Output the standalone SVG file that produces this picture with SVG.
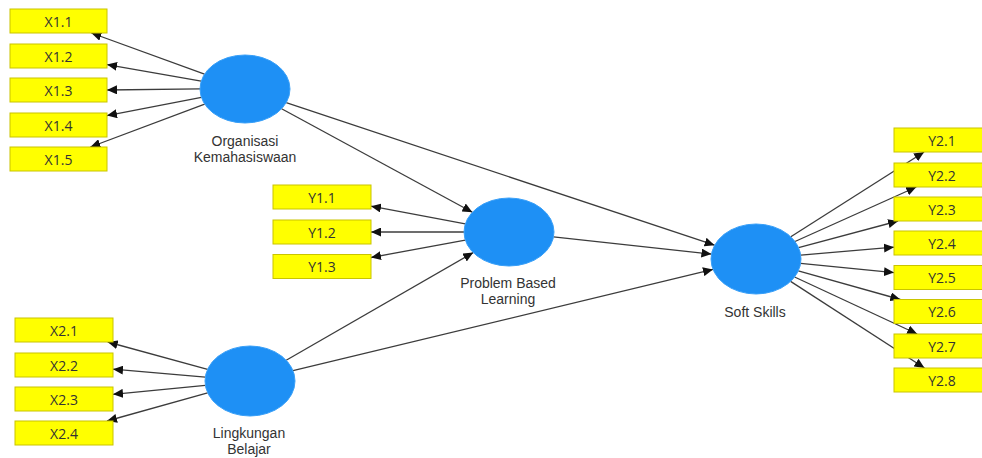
<svg xmlns="http://www.w3.org/2000/svg" width="982" height="458" viewBox="0 0 982 458">
<style>
.box{fill:#ffff00;stroke:#c9c400;stroke-width:1}
.bt{font-family:"Open Sans","Noto Sans",sans-serif;font-size:14px;fill:#333;text-anchor:middle;dominant-baseline:central}
.lv{fill:#1e90f5;stroke:#3aa0f8;stroke-width:1}
.lt{font-family:"Liberation Sans",Arial,sans-serif;font-size:14px;fill:#333;text-anchor:middle}
.c{stroke:#3c3c3c;stroke-width:1.3;fill:none;marker-end:url(#ah)}
</style>
<defs>
<marker id="ah" markerUnits="userSpaceOnUse" markerWidth="10" markerHeight="9" refX="10" refY="4.5" orient="auto">
<path d="M0,0 L10,4.5 L0,9 z" fill="#111"/>
</marker>
</defs>
<rect width="982" height="458" fill="#ffffff"/>
<g id="connectors">
<line class="c" x1="204.5" y1="74.2" x2="91.4" y2="33"/>
<line class="c" x1="201.2" y1="81.2" x2="107" y2="64.6"/>
<line class="c" x1="200" y1="88.8" x2="107" y2="90"/>
<line class="c" x1="201.4" y1="97.4" x2="107" y2="115.6"/>
<line class="c" x1="204.7" y1="104.1" x2="90.4" y2="147"/>
<line class="c" x1="465.3" y1="223.8" x2="371" y2="206.2"/>
<line class="c" x1="464" y1="232" x2="371" y2="232"/>
<line class="c" x1="465.3" y1="240.1" x2="371" y2="257.5"/>
<line class="c" x1="207.6" y1="369.4" x2="107.7" y2="342"/>
<line class="c" x1="205.3" y1="377.2" x2="113" y2="369.2"/>
<line class="c" x1="205.3" y1="385.3" x2="113" y2="394.3"/>
<line class="c" x1="207.6" y1="392.8" x2="107" y2="421"/>
<line class="c" x1="790.8" y1="236.8" x2="924.1" y2="152"/>
<line class="c" x1="795" y1="241.5" x2="916.3" y2="187"/>
<line class="c" x1="798.6" y1="247.6" x2="898.1" y2="221"/>
<line class="c" x1="800.7" y1="255.2" x2="894" y2="247.2"/>
<line class="c" x1="800.6" y1="263.4" x2="894" y2="272.6"/>
<line class="c" x1="798.3" y1="270.9" x2="900.3" y2="299.5"/>
<line class="c" x1="794.6" y1="277" x2="917.2" y2="334"/>
<line class="c" x1="790.6" y1="281.4" x2="924.5" y2="368"/>
<line class="c" x1="281.6" y1="108.8" x2="472.4" y2="212.2"/>
<line class="c" x1="286.2" y1="102.7" x2="714.6" y2="245.2"/>
<line class="c" x1="286.2" y1="360.2" x2="473.2" y2="252.6"/>
<line class="c" x1="293" y1="370.6" x2="713" y2="269.4"/>
<line class="c" x1="553.5" y1="236.9" x2="711.4" y2="254.1"/>
</g>
<g id="X1.1"><rect class="box" x="10" y="9" width="97" height="24"/><text class="bt" x="58.5" y="21">X1.1</text></g>
<g id="X1.2"><rect class="box" x="10" y="44" width="97" height="24"/><text class="bt" x="58.5" y="56">X1.2</text></g>
<g id="X1.3"><rect class="box" x="10" y="78" width="97" height="24"/><text class="bt" x="58.5" y="90">X1.3</text></g>
<g id="X1.4"><rect class="box" x="10" y="113" width="97" height="24"/><text class="bt" x="58.5" y="125">X1.4</text></g>
<g id="X1.5"><rect class="box" x="10" y="147" width="97" height="24"/><text class="bt" x="58.5" y="159">X1.5</text></g>
<g id="Y1.1"><rect class="box" x="273" y="185" width="98" height="24"/><text class="bt" x="322" y="197">Y1.1</text></g>
<g id="Y1.2"><rect class="box" x="273" y="220" width="98" height="24"/><text class="bt" x="322" y="232">Y1.2</text></g>
<g id="Y1.3"><rect class="box" x="273" y="254.5" width="98" height="24"/><text class="bt" x="322" y="266.5">Y1.3</text></g>
<g id="X2.1"><rect class="box" x="15" y="318" width="98" height="24"/><text class="bt" x="64" y="330">X2.1</text></g>
<g id="X2.2"><rect class="box" x="15" y="353" width="98" height="24"/><text class="bt" x="64" y="365">X2.2</text></g>
<g id="X2.3"><rect class="box" x="15" y="387" width="98" height="24"/><text class="bt" x="64" y="399">X2.3</text></g>
<g id="X2.4"><rect class="box" x="15" y="421" width="98" height="24"/><text class="bt" x="64" y="433">X2.4</text></g>
<g id="Y2.1"><rect class="box" x="894" y="128" width="98" height="24"/><text class="bt" x="942" y="140">Y2.1</text></g>
<g id="Y2.2"><rect class="box" x="894" y="163" width="98" height="24"/><text class="bt" x="942" y="175">Y2.2</text></g>
<g id="Y2.3"><rect class="box" x="894" y="197" width="98" height="24"/><text class="bt" x="942" y="209">Y2.3</text></g>
<g id="Y2.4"><rect class="box" x="894" y="231" width="98" height="24"/><text class="bt" x="942" y="243">Y2.4</text></g>
<g id="Y2.5"><rect class="box" x="894" y="265.5" width="98" height="24"/><text class="bt" x="942" y="277.5">Y2.5</text></g>
<g id="Y2.6"><rect class="box" x="894" y="299.5" width="98" height="24"/><text class="bt" x="942" y="311.5">Y2.6</text></g>
<g id="Y2.7"><rect class="box" x="894" y="334" width="98" height="24"/><text class="bt" x="942" y="346">Y2.7</text></g>
<g id="Y2.8"><rect class="box" x="894" y="368" width="98" height="24"/><text class="bt" x="942" y="380">Y2.8</text></g>
<g id="organisasi"><ellipse class="lv" cx="245" cy="89" rx="45" ry="34"/><text class="lt" x="245" y="146">Organisasi</text><text class="lt" x="245" y="162">Kemahasiswaan</text></g>
<g id="pbl"><ellipse class="lv" cx="509" cy="232" rx="45" ry="34"/><text class="lt" x="508" y="288">Problem Based</text><text class="lt" x="508" y="304">Learning</text></g>
<g id="lingkungan"><ellipse class="lv" cx="250" cy="381" rx="45" ry="35"/><text class="lt" x="249" y="438">Lingkungan</text><text class="lt" x="249" y="454">Belajar</text></g>
<g id="softskills"><ellipse class="lv" cx="756" cy="259" rx="45" ry="35"/><text class="lt" x="755" y="317">Soft Skills</text></g>
</svg>
